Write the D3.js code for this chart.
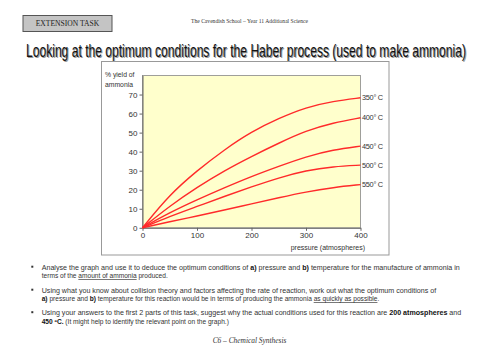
<!DOCTYPE html>
<html>
<head>
<meta charset="utf-8">
<script src="https://cdn.jsdelivr.net/npm/d3@7"></script>
<style>
  body { margin: 0; background: white; }
  svg { display: block; }
</style>
</head>
<body>
<div id="chart"></div>
<script>
// pressure in atmospheres
const pressures = [0, 50, 100, 150, 200, 250, 300, 350, 400]
const temps = ['350° C', '400° C', '450° C', '500° C', '550° C']
// % yield of ammonia, one array per temperature
const yield350 = [0, 17.5, 30, 41, 50.5, 57.5, 63.3, 66.5, 68.3]
const yield400 = [0, 11.5, 21.3, 30, 37.5, 44.5, 51, 55.2, 57.8]
const yield450 = [0, 8, 14.7, 21, 27, 32.3, 37.4, 41, 42.9]
const yield500 = [0, 6, 11.2, 16.5, 21.5, 26.3, 30.1, 32.2, 32.9]
const yield550 = [0, 3.2, 6.2, 9.3, 12.6, 15.8, 18.9, 21.2, 22.7]
const xTicks = [0, 100, 200, 300, 400]
const yTicks = [0, 10, 20, 30, 40, 50, 60, 70]

const width = 500
const height = 353

const svg = d3.select('#chart').append('svg')
  .attr('width', width)
  .attr('height', height)

// header box
svg.append('rect')
  .attr('x', 23).attr('y', 15.5)
  .attr('width', 89).attr('height', 16)
  .attr('fill', '#c4c4c4')
  .attr('stroke', '#555')
  .attr('stroke-width', 1)
svg.append('text')
  .attr('x', 67.5).attr('y', 26.3)
  .attr('text-anchor', 'middle')
  .attr('font-family', 'Liberation Serif')
  .attr('font-size', 7.6)
  .attr('fill', '#222')
  .text('EXTENSION TASK')

svg.append('text')
  .attr('x', 249.5).attr('y', 22.5)
  .attr('text-anchor', 'middle')
  .attr('font-family', 'Liberation Serif')
  .attr('font-size', 5.6)
  .attr('fill', '#333')
  .text('The Cavendish School – Year 11 Additional Science')

// title with shadow
const title = 'Looking at the optimum conditions for the Haber process (used to make ammonia)'
const titleShadow = svg.append('text')
  .attr('x', 27).attr('y', 57.5)
  .attr('fill', '#999')
  .text(title)
const titleMain = svg.append('text')
  .attr('x', 26).attr('y', 56.5)
  .attr('fill', '#111')
  .text(title)
;[titleShadow, titleMain].forEach(t => {
  t.attr('font-family', 'Liberation Sans Narrow, Liberation Sans')
    .attr('font-size', 19)
    .attr('textLength', 440)
    .attr('lengthAdjust', 'spacingAndGlyphs')
})

// chart frame
svg.append('rect')
  .attr('x', 101.5).attr('y', 61.5)
  .attr('width', 287.5).attr('height', 193.5)
  .attr('fill', 'white')
  .attr('stroke', '#999')

const plot = { left: 142.5, right: 360.5, top: 75.5, bottom: 227.8 }

const x = d3.scaleLinear().domain([0, 400]).range([plot.left, plot.right])
const y = d3.scaleLinear().domain([0, 80]).range([plot.bottom, plot.top])

svg.append('rect')
  .attr('x', plot.left).attr('y', plot.top)
  .attr('width', plot.right - plot.left)
  .attr('height', plot.bottom - plot.top)
  .attr('fill', '#ffffcc')
  .attr('stroke', '#888')
  .attr('stroke-width', 0.8)

const xAxis = svg.append('g')
  .attr('transform', 'translate(0,' + plot.bottom + ')')
  .call(d3.axisBottom(x).tickValues(xTicks).tickSize(3).tickSizeOuter(0).tickPadding(2))
const yAxis = svg.append('g')
  .attr('transform', 'translate(' + plot.left + ',0)')
  .call(d3.axisLeft(y).tickValues(yTicks).tickSize(3).tickSizeOuter(0).tickPadding(2))

;[xAxis, yAxis].forEach(a => {
  a.select('.domain').attr('stroke', '#666')
  a.selectAll('.tick line').attr('stroke', '#666')
  a.selectAll('.tick text')
    .attr('font-family', 'Liberation Sans')
    .attr('font-size', 8)
    .attr('fill', '#333')
})

svg.append('text')
  .attr('x', 105).attr('y', 76.5)
  .attr('font-family', 'Liberation Sans')
  .attr('font-size', 6.8)
  .attr('fill', '#333')
  .text('% yield of')
svg.append('text')
  .attr('x', 105).attr('y', 86.5)
  .attr('font-family', 'Liberation Sans')
  .attr('font-size', 6.8)
  .attr('fill', '#333')
  .text('ammonia')
svg.append('text')
  .attr('x', 365).attr('y', 249.8)
  .attr('text-anchor', 'end')
  .attr('font-family', 'Liberation Sans')
  .attr('font-size', 7)
  .attr('fill', '#333')
  .text('pressure (atmospheres)')

const series = [yield350, yield400, yield450, yield500, yield550]

// basis curve smooths out the reading noise in the estimated points
const valueline = d3.line()
  .x((d, i) => x(pressures[i]))
  .y(d => y(d))
  .curve(d3.curveBasis)

series.forEach((s, k) => {
  svg.append('path')
    .data([s])
    .attr('stroke', '#ff2a2a')
    .attr('stroke-width', 1.4)
    .attr('fill', 'none')
    .attr('d', valueline)
  svg.append('text')
    .attr('x', plot.right + 1.5)
    .attr('y', y(s[s.length - 1]))
    .attr('dy', '0.35em')
    .attr('font-family', 'Liberation Sans')
    .attr('font-size', 7.4)
    .attr('letter-spacing', -0.3)
    .attr('fill', '#333')
    .text(temps[k])
})

// task bullets
const bulletLines = [
  { y: 269.5, bullet: true, width: 418, parts: [
    ['Analyse the graph and use it to deduce the optimum conditions of '], ['a)', 'b'], [' pressure and '], ['b)', 'b'],
    [' temperature for the manufacture of ammonia in']] },
  { y: 278, parts: [['terms of the '], ['amount of ammonia', 'u'], [' produced.']] },
  { y: 292.5, bullet: true, width: 394.5, parts: [
    ['Using what you know about collision theory and factors affecting the rate of reaction, work out what the optimum conditions of']] },
  { y: 301, parts: [['a)', 'b'], [' pressure and '], ['b)', 'b'],
    [' temperature for this reaction would be in terms of producing the ammonia '], ['as quickly as possible', 'u'], ['.']] },
  { y: 315, bullet: true, width: 419.5, parts: [
    ['Using your answers to the first 2 parts of this task, suggest why the actual conditions used for this reaction are '],
    ['200 atmospheres', 'b'], [' and']] },
  { y: 323.5, parts: [['450 ºC.', 'b'], [' (It might help to identify the relevant point on the graph.)']] }
]

bulletLines.forEach(line => {
  if (line.bullet) {
    svg.append('rect')
      .attr('x', 31.3).attr('y', line.y - 3.8)
      .attr('width', 2).attr('height', 2)
      .attr('fill', '#333')
  }
  const t = svg.append('text')
    .attr('x', 41.7).attr('y', line.y)
    .attr('font-family', 'Liberation Sans')
    .attr('font-size', 6.6)
    .attr('fill', '#333')
  line.parts.forEach(p => {
    const ts = t.append('tspan').text(p[0])
    if (p[1] === 'b') ts.attr('font-weight', 'bold').attr('fill', '#111')
    if (p[1] === 'u') ts.attr('text-decoration', 'underline')
  })
  if (line.width) {
    t.attr('textLength', line.width).attr('lengthAdjust', 'spacingAndGlyphs')
  }
})

svg.append('text')
  .attr('x', 249.5).attr('y', 342.5)
  .attr('text-anchor', 'middle')
  .attr('font-family', 'Liberation Serif')
  .attr('font-style', 'italic')
  .attr('font-size', 7.4)
  .attr('fill', '#333')
  .text('C6 – Chemical Synthesis')
</script>
</body>
</html>
